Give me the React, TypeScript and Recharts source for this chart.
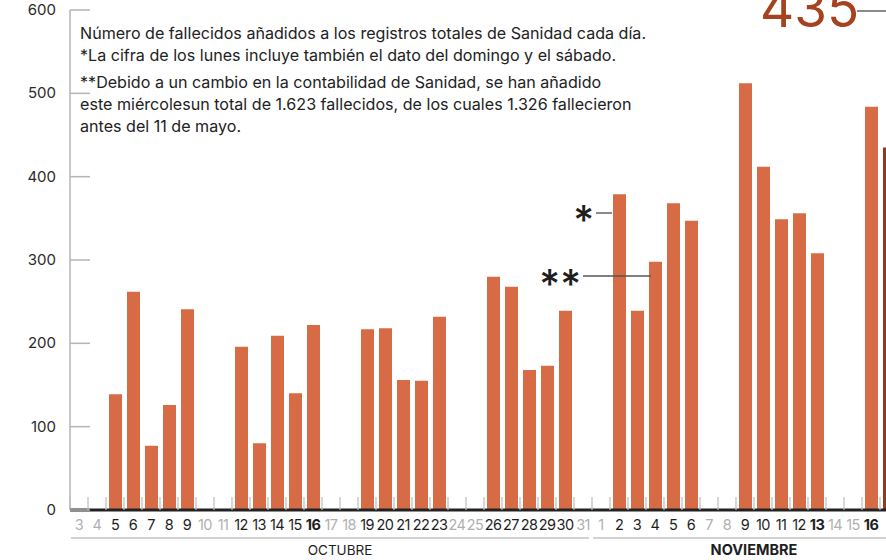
import { BarChart, Bar, XAxis, YAxis, Cell } from "recharts";

// Fallecidos añadidos cada día (null = sin dato: fines de semana)
const octDays = [3, 4, 5, 6, 7, 8, 9, 10, 11, 12, 13, 14, 15, 16, 17, 18, 19, 20, 21, 22, 23, 24, 25, 26, 27, 28, 29, 30, 31];
const octValues = [null, null, 139, 262, 77, 126, 241, null, null, 196, 80, 209, 140, 222, null, null, 217, 218, 156, 155, 232, null, null, 280, 268, 168, 173, 239, null];
const novDays = [1, 2, 3, 4, 5, 6, 7, 8, 9, 10, 11, 12, 13, 14, 15, 16, 17];
const novValues = [null, 379, 239, 298, 368, 347, null, null, 512, 412, 349, 356, 308, null, null, 484, 435];
const boldDays = ["oct-16", "nov-13", "nov-16"];
const latestDay = "nov-17";
const yTicks = [0, 100, 200, 300, 400, 500, 600];

const months = [
    { id: "oct", name: "OCTUBRE", days: octDays, values: octValues, bold: false },
    { id: "nov", name: "NOVIEMBRE", days: novDays, values: novValues, bold: true },
];

const data = months.flatMap(m =>
    m.days.map((d, i) => ({
        key: `${m.id}-${d}`,
        day: d,
        month: m,
        first: i === 0,
        value: m.values[i],
    }))
);
const byKey = new Map(data.map(r => [r.key, r]));

const FONT = "Inter, 'Noto Sans', sans-serif";
const BAND = 18;
const BAR_COLOR = "#D66B45";
const LATEST_COLOR = "#8E3B1E";

function DayTick(props: any) {
    const { x, y, payload } = props;
    const row = byKey.get(payload.value);
    if (!row) return null;
    const empty = row.value == null;
    const bold = boldDays.includes(row.key);
    const n = row.month.days.length;
    const left = x - BAND / 2;
    return (
        <g>
            <line x1={left} x2={left} y1={y - 13} y2={y} stroke="#bdbdbd" strokeWidth={1.2} />
            {row.key !== latestDay && (
                <text
                    x={x}
                    y={y + 20}
                    textAnchor="middle"
                    fontFamily={FONT}
                    fontSize={14.5}
                    letterSpacing={-0.6}
                    fontWeight={bold ? 700 : 400}
                    fill={empty ? "#b0b0b0" : "#1e1e1e"}
                >
                    {row.day}
                </text>
            )}
            {row.first && (
                <g>
                    <line x1={left + 1} x2={left + n * BAND - 3} y1={y + 28} y2={y + 28} stroke="#d2d2d2" strokeWidth={2} />
                    <text
                        x={left + (n * BAND) / 2 + 9}
                        y={y + 45}
                        textAnchor="middle"
                        fontFamily={FONT}
                        fontSize={row.month.bold ? 14.5 : 13.5}
                        fontWeight={row.month.bold ? 700 : 400}
                        fill="#1e1e1e"
                    >
                        {row.month.name}
                    </text>
                </g>
            )}
        </g>
    );
}

function ValueTick(props: any) {
    const { x, y, payload } = props;
    return (
        <g>
            <line x1={x} x2={x + 20} y1={y} y2={y} stroke="#b5b5b5" strokeWidth={1.5} />
            <text x={x - 14} y={y + 5} textAnchor="end" fontFamily={FONT} fontSize={15} fill="#2a2a2a">
                {payload.value}
            </text>
        </g>
    );
}

const notes = [
    "Número de fallecidos añadidos a los registros totales de Sanidad cada día.",
    "*La cifra de los lunes incluye también el dato del domingo y el sábado.",
    "**Debido a un cambio en la contabilidad de Sanidad, se han añadido",
    "este miércolesun total de 1.623 fallecidos, de los cuales 1.326 fallecieron",
    "antes del 11 de mayo.",
];
const noteY = [39, 61, 88, 110, 132];

export default function App() {
    return (
        <div style={{ position: "fixed", left: 0, top: 0, width: 886, height: 560, overflow: "hidden", background: "#fff", fontFamily: FONT }}>
            <BarChart width={898} height={560} data={data} margin={{ top: 10, right: 0, bottom: 0, left: 0 }} barSize={13}>
                <YAxis
                    type="number"
                    domain={[0, 600]}
                    ticks={yTicks}
                    interval={0}
                    width={70}
                    tickSize={0}
                    tickMargin={0}
                    tickLine={false}
                    axisLine={{ stroke: "#b5b5b5", strokeWidth: 1.5 }}
                    tick={<ValueTick />}
                />
                <XAxis
                    dataKey="key"
                    interval={0}
                    height={50}
                    tickSize={0}
                    tickMargin={0}
                    tickLine={false}
                    axisLine={{ stroke: "#222", strokeWidth: 3 }}
                    tick={<DayTick />}
                />
                <Bar dataKey="value" fill={BAR_COLOR} isAnimationActive={false}>
                    {data.map(r => (
                        <Cell key={r.key} fill={r.key === latestDay ? LATEST_COLOR : BAR_COLOR} />
                    ))}
                </Bar>
            </BarChart>
            <svg width={886} height={560} style={{ position: "absolute", left: 0, top: 0, pointerEvents: "none" }}>
                {notes.map((t, i) => (
                    <text key={i} x={80} y={noteY[i]} fontFamily={FONT} fontSize={16.1} fill="#222">
                        {t}
                    </text>
                ))}
                <text x={760} y={27} fontFamily={FONT} fontSize={53} fill="#A6421F">435</text>
                <line x1={857} x2={886} y1={11} y2={11} stroke="#8a8a8a" strokeWidth={2} />
                <text x={594} y={234} textAnchor="end" fontFamily={FONT} fontSize={40} fontWeight={500} fill="#1e1e1e">*</text>
                <line x1={596} x2={612} y1={213} y2={213} stroke="#8a8a8a" strokeWidth={2} />
                <text x={581} y={298} textAnchor="end" fontFamily={FONT} fontSize={40} fontWeight={500} fill="#1e1e1e">**</text>
                <line x1={583} x2={651} y1={276} y2={276} stroke="#555" strokeWidth={1.5} />
            </svg>
        </div>
    );
}
